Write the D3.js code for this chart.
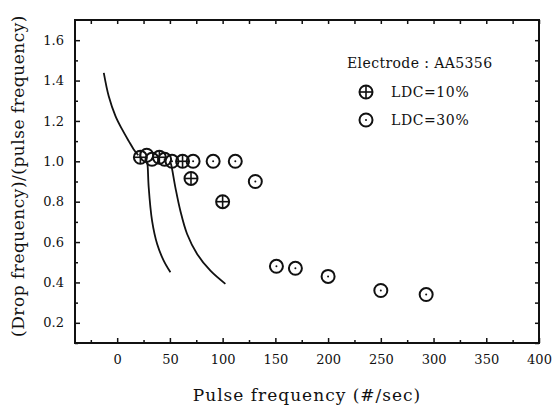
<!DOCTYPE html>
<html>
<head>
<meta charset="utf-8">
<script src="https://cdn.jsdelivr.net/npm/d3@7"></script>
<style>
    body { margin: 0; background: #fff; }
    svg text { font-family: "DejaVu Serif", serif; fill: #111; }
</style>
</head>
<body>
<div id="graph"></div>
<script>
const ldc10 = [[22, 1.02], [40, 1.02], [62, 1.0], [70, 0.915], [100, 0.80]];
const ldc30 = [[28, 1.03], [33, 1.01], [45, 1.01], [52, 1.0], [72, 1.0], [91, 1.0], [112, 1.0],
               [131, 0.9], [151, 0.48], [169, 0.47], [200, 0.43], [250, 0.36], [293, 0.34]];

// the drawn curves
const curveTop = [[-12.7, 1.438], [-8, 1.322], [-1.6, 1.224], [4.7, 1.158], [11, 1.1], [15.7, 1.059], [20, 1.03]];
const curveA = [[28.5, 1.0], [29, 0.969], [29.9, 0.87], [33.1, 0.705], [37.9, 0.59], [44.1, 0.508], [50.5, 0.45]];
const curveB = [[50, 1.0], [51.1, 0.985], [55.2, 0.87], [59.9, 0.755], [66.3, 0.64], [75.8, 0.541],
                [88.4, 0.458], [102.6, 0.393]];

const xTicks = [0, 50, 100, 150, 200, 250, 300, 350, 400];
const xMinor = [-25, 25, 75, 125, 175, 225, 275, 325, 375];
const yTicks = [0.2, 0.4, 0.6, 0.8, 1.0, 1.2, 1.4, 1.6];
const yMinor = [0.1, 0.3, 0.5, 0.7, 0.9, 1.1, 1.3, 1.5];

const legendTitle = "Electrode : AA5356";
const legendNames = ["LDC=10%", "LDC=30%"];

const plotL = 75, plotR = 539, plotT = 20, plotB = 343;

const svg = d3.select("#graph")
    .append("svg")
    .attr("width", 552)
    .attr("height", 407);

const x = d3.scaleLinear().domain([-40, 400]).range([plotL, plotR]);
const y = d3.scaleLinear().domain([0.1, 1.7]).range([plotB, plotT]);

// axes, ticks pointing in
svg.append("g").attr("transform", `translate(0,${plotB})`)
    .call(d3.axisBottom(x).tickValues(xTicks).tickSizeInner(-5).tickSizeOuter(0).tickPadding(12).tickFormat(d3.format("d")));
svg.append("g").attr("transform", `translate(0,${plotB})`)
    .call(d3.axisBottom(x).tickValues(xMinor).tickSizeInner(-3).tickSizeOuter(0).tickFormat(""));
svg.append("g").attr("transform", `translate(0,${plotT})`)
    .call(d3.axisTop(x).tickValues(xTicks.concat(xMinor)).tickSizeInner(-4).tickSizeOuter(0).tickFormat(""));

svg.append("g").attr("transform", `translate(${plotL},0)`)
    .call(d3.axisLeft(y).tickValues(yTicks).tickSizeInner(-5).tickSizeOuter(0).tickPadding(11).tickFormat(d3.format(".1f")));
svg.append("g").attr("transform", `translate(${plotL},0)`)
    .call(d3.axisLeft(y).tickValues(yMinor).tickSizeInner(-3).tickSizeOuter(0).tickFormat(""));
svg.append("g").attr("transform", `translate(${plotR},0)`)
    .call(d3.axisRight(y).tickValues(yTicks.concat(yMinor)).tickSizeInner(-4).tickSizeOuter(0).tickFormat(""));

svg.selectAll(".domain").remove();
svg.selectAll(".tick line").attr("stroke", "#111").attr("stroke-width", 1.5);
svg.selectAll(".tick text").attr("font-size", 13).attr("font-family", "DejaVu Serif").attr("fill", "#111");

svg.append("rect")
    .attr("x", plotL).attr("y", plotT)
    .attr("width", plotR - plotL).attr("height", plotB - plotT)
    .attr("fill", "none").attr("stroke", "#111").attr("stroke-width", 2);

// axis titles
svg.append("text")
    .attr("x", (plotL + plotR) / 2).attr("y", 401)
    .attr("text-anchor", "middle").attr("font-size", 17)
    .attr("letter-spacing", 1)
    .text("Pulse frequency (#/sec)");

svg.append("text")
    .attr("transform", "translate(24,176) rotate(-90)")
    .attr("text-anchor", "middle").attr("font-size", 17)
    .attr("letter-spacing", 0.5)
    .text("(Drop frequency)/(pulse frequency)");

// curves
const line = d3.line().x(d => x(d[0])).y(d => y(d[1])).curve(d3.curveCatmullRom);
[curveTop, curveA, curveB].forEach(c => {
    svg.append("path")
        .datum(c)
        .attr("d", line)
        .attr("fill", "none")
        .attr("stroke", "#111")
        .attr("stroke-width", 1.8);
});

const r = 6.5;
function crossMark(g, cx, cy) {
    g.append("circle").attr("cx", cx).attr("cy", cy).attr("r", r)
        .attr("fill", "none").attr("stroke", "#111").attr("stroke-width", 2);
    g.append("line").attr("x1", cx - r).attr("x2", cx + r).attr("y1", cy).attr("y2", cy)
        .attr("stroke", "#111").attr("stroke-width", 1.6);
    g.append("line").attr("x1", cx).attr("x2", cx).attr("y1", cy - r).attr("y2", cy + r)
        .attr("stroke", "#111").attr("stroke-width", 1.6);
}
function dotMark(g, cx, cy) {
    g.append("circle").attr("cx", cx).attr("cy", cy).attr("r", r)
        .attr("fill", "none").attr("stroke", "#111").attr("stroke-width", 2);
    g.append("circle").attr("cx", cx).attr("cy", cy).attr("r", 1).attr("fill", "#111");
}

const marks = svg.append("g");
ldc10.forEach(d => crossMark(marks, x(d[0]), y(d[1])));
ldc30.forEach(d => dotMark(marks, x(d[0]), y(d[1])));

// legend
const legend = svg.append("g");
legend.append("text").attr("x", 347).attr("y", 68).attr("font-size", 14)
    .attr("letter-spacing", 0.4).text(legendTitle);
crossMark(legend, 366, 92);
dotMark(legend, 366, 120);
legendNames.forEach((name, i) => {
    legend.append("text").attr("x", 391).attr("y", 97 + i * 28).attr("font-size", 14)
        .attr("letter-spacing", 0.6).text(name);
});
</script>
</body>
</html>
